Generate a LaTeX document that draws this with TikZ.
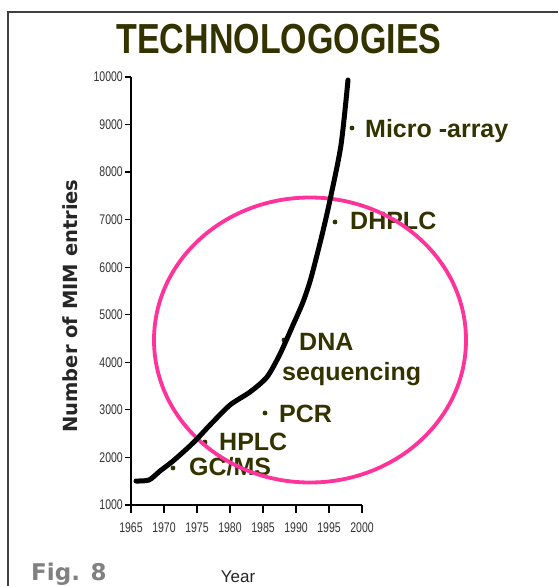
\documentclass[tikz,border=0pt]{standalone}
\usepackage{fontspec}
\setmainfont{Liberation Sans}
\newfontfamily\narrowsans[FakeStretch=0.75]{Liberation Sans}
\newfontfamily\titlesans[FakeStretch=0.81]{Liberation Sans}
\newfontfamily\verasans{DejaVu Sans}
\definecolor{labelolive}{RGB}{51,51,0}
\definecolor{ringpink}{RGB}{255,51,153}
\tikzset{
  frameline/.style={draw=black!75, line width=1.2pt},
  axisline/.style={draw=black, line width=1.6pt},
  tickline/.style={draw=black, line width=1.2pt},
  ticklabel/.style={inner sep=0pt, text=black!80, font=\narrowsans\fontsize{14}{14}\selectfont},
  growth/.style={draw=black, line width=5pt, line cap=round, line join=round},
  ring/.style={draw=ringpink, line width=3.8pt},
  techlabel/.style={inner sep=0pt, anchor=base west, text=labelolive, font=\bfseries\fontsize{25}{25}\selectfont},
  techdot/.style={circle, fill=labelolive, inner sep=0pt, minimum size=4.8pt}
}
\begin{document}
\begin{tikzpicture}[x=1pt, y=-1pt]
\useasboundingbox (0,0) rectangle (558,586);
\fill[white] (0,0) rectangle (558,586);

% frame
\coordinate (fr) at (558,12);
\coordinate (fc) at (8,12);
\coordinate (fb) at (8,586);
\draw[frameline] (fr) -- (fc) -- (fb);

% title
\node[inner sep=0pt, anchor=base, text=labelolive,
      font=\titlesans\bfseries\fontsize{42}{42}\selectfont] (title) at (279,53) {TECHNOLOGOGIES};

% axes
\coordinate (ytop) at (131,77);
\coordinate (orig) at (131,505);
\coordinate (xend) at (362,505);
\draw[axisline] (ytop) -- (orig) -- (xend);

% y ticks and labels
\foreach \v in {1000,2000,...,10000}{
  \pgfmathsetmacro{\yy}{505-(\v-1000)*0.047556}
  \coordinate (yt\v) at (131,\yy);
  \draw[tickline] (yt\v) -- ++(-6,0);
  \node[ticklabel, anchor=east] (yl\v) at (123,\yy) {\v};
}

% x ticks and labels
\foreach \yr in {1965,1970,...,2000}{
  \pgfmathsetmacro{\xx}{131+(\yr-1965)*6.6}
  \coordinate (xt\yr) at (\xx,505);
  \draw[tickline] (xt\yr) -- ++(0,8);
  \node[ticklabel, anchor=base] (xl\yr) at (\xx,532) {\yr};
}

% axis titles
\node[inner sep=0pt, anchor=base, rotate=90, text=black!85,
      font=\verasans\bfseries\fontsize{19.5}{19.5}\selectfont] (ytitle) at (77,306) {Number of MIM entries};
\node[inner sep=0pt, anchor=base, text=black!85,
      font=\fontsize{17}{17}\selectfont] (xtitle) at (238,582) {Year};

% figure number
\node[inner sep=0pt, anchor=base west, text=black!50,
      font=\verasans\bfseries\fontsize{23}{23}\selectfont] (fignum) at (31,580) {Fig. 8};

% technology labels
\node[techdot] (dmicro) at (352,128) {};
\node[techlabel] (micro) at (365,137) {Micro -array};
\node[techdot] (ddhplc) at (335,222) {};
\node[techlabel] (dhplc) at (350,229) {DHPLC};
\node[techdot] (ddna) at (284,340) {};
\node[techlabel] (dna) at (299,350) {DNA};
\node[techlabel] (seq) at (282,380) {sequencing};
\node[techdot] (dpcr) at (265,413) {};
\node[techlabel] (pcr) at (279,422) {PCR};
\node[techdot] (dhplcb) at (205,442) {};
\node[techlabel] (hplc) at (219,450) {HPLC};
\node[techdot] (dgcms) at (173,468) {};
\node[techlabel] (gcms) at (189,475) {GC/MS};

% highlight ring
\draw[ring] (310,340) ellipse [x radius=156pt, y radius=142.5pt];

% growth curve
\draw[growth] plot[smooth, tension=0.45] coordinates {
  (136,481) (149,480) (160,471) (173,461) (193,443) (210,425)
  (230,405) (250,392) (267,377) (280,354) (293,325) (303,302)
  (311,278) (322,235) (330,200) (341,145) (348,80)};
\end{tikzpicture}
\end{document}
